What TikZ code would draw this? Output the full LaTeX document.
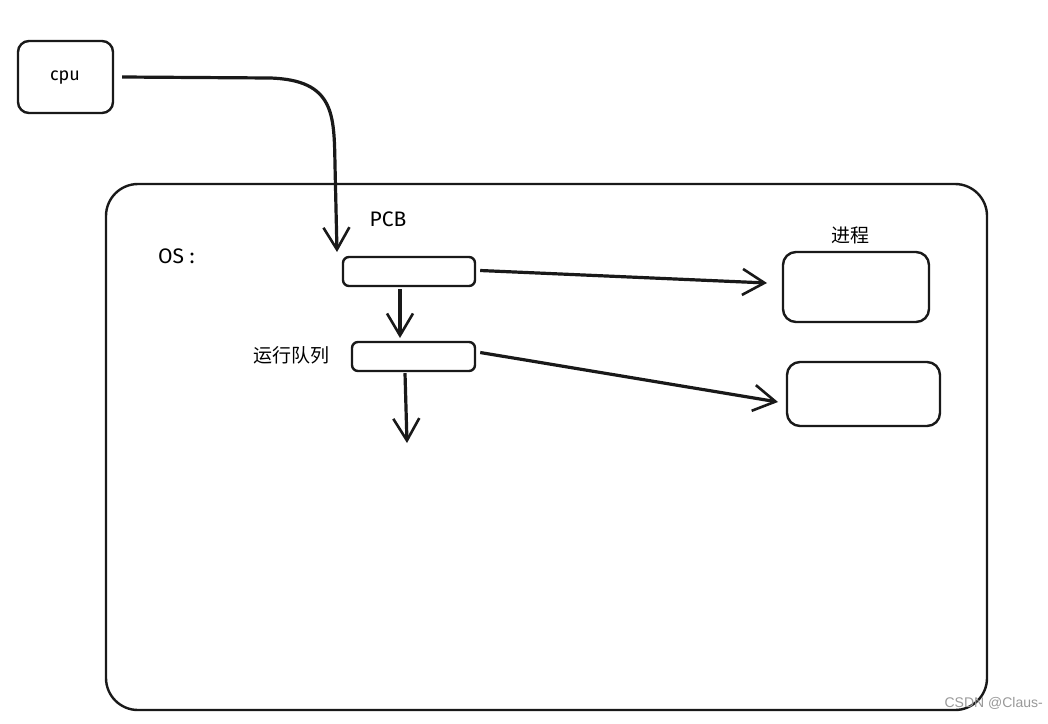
\documentclass[tikz,border=0pt]{standalone}
\usepackage{fontspec}
\setmainfont{Fira Sans}
\newfontfamily\cjk{Noto Sans CJK SC}
\newfontfamily\wm{Liberation Sans}
\usetikzlibrary{arrows.meta}
\begin{document}
\begin{tikzpicture}[x=1pt,y=-1pt,
  box/.style={draw=black!90,line width=2.4pt,rounded corners=#1,inner sep=0pt},
  conn/.style={draw=black!90,line width=3.2pt,-{Straight Barb[length=22pt,width=26pt,line width=2.6pt]}},
  lbl/.style={font=\fontsize{21}{21}\selectfont,inner sep=0pt}]
\useasboundingbox (0,0) rectangle (1048,723);
\fill[white] (0,0) rectangle (1048,723);
% big OS box
\draw[box=32pt] (106,184) rectangle (987,710);
\node[lbl,anchor=west] (os) at (158,256) {OS :};
% cpu
\node[box=11pt,minimum width=95pt,minimum height=72pt] (cpu) at (65.5,77) {};
\node[lbl,font=\fontsize{18}{18}\selectfont] (cputxt) at (65,78) {cpu};
% PCB
\node[lbl] (pcbl) at (388,219) {PCB};
\node[box=6pt,minimum width=132pt,minimum height=29pt] (pcb) at (409,271.5) {};
% run queue
\node[lbl,anchor=east,font=\cjk\fontsize{19}{19}\selectfont] (rql) at (330,355) {运行队列};
\node[box=6pt,minimum width=123pt,minimum height=29pt] (rq) at (413.5,356.5) {};
% processes
\node[lbl,font=\cjk\fontsize{19}{19}\selectfont] (pl) at (850,235) {进程};
\node[box=13pt,minimum width=146pt,minimum height=70pt] (p1) at (856,287) {};
\node[box=13pt,minimum width=153pt,minimum height=64pt] (p2) at (863.5,394) {};
% connectors
\coordinate (cpuarrowend) at (337,252);
\draw[conn] (cpu.east) ++(8,0) -- (270,78) .. controls (335,80) and (334,115) .. (335,165) -- (cpuarrowend);
\draw[conn] (pcb.south -| 400,0) ++(0,2) -- (400,338);
\coordinate (rqend) at (407,443);
\draw[conn] (rq.south -| 405,0) ++(0,1) -- (rqend);
\draw[conn] (pcb.east) ++(4,-1) -- (767,283);
\draw[conn] (rq.east) ++(4,-4) -- (778,402);
% watermark
\node[font=\wm\fontsize{14}{14}\selectfont,text=black!40,anchor=east,inner sep=0pt] (wmk) at (1043,703) {CSDN @Claus-};
\end{tikzpicture}
\end{document}
